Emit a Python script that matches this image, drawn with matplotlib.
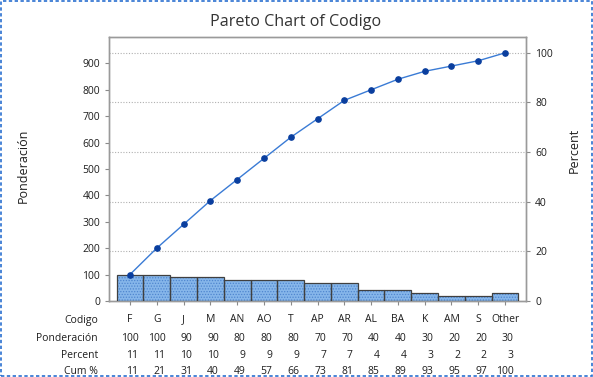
import numpy as np
import matplotlib.pyplot as plt
from matplotlib.patches import Rectangle
from matplotlib.transforms import blended_transform_factory

# ----------------------------
# Data
# ----------------------------

codigos = ["F", "G", "J", "M", "AN", "AO", "T", "AP", "AR",
           "AL", "BA", "K", "AM", "S", "Other"]
ponderacion = [100, 100, 90, 90, 80, 80, 80, 70, 70,
               40, 40, 30, 20, 20, 30]
percent = [11, 11, 10, 10, 9, 9, 9, 7, 7, 4, 4, 3, 2, 2, 3]
cum_pct = [11, 21, 31, 40, 49, 57, 66, 73, 81, 85, 89, 93, 95, 97, 100]

plt.rcParams["font.family"] = ["Open Sans", "DejaVu Sans"]
plt.rcParams["hatch.linewidth"] = 0.6

W, H = 593, 377
TXT = "#1e1e1e"
fig = plt.figure(figsize=(W / 100, H / 100), dpi=100)
ax = fig.add_axes([109 / W, 1 - 301 / H, (526 - 109) / W, (301 - 37) / H])

x = np.arange(len(codigos))
total = sum(ponderacion)
cum = np.cumsum(ponderacion)

# bars: hatched fill, then outline
ax.bar(x, ponderacion, width=1.0, color="#86b6ea", edgecolor="#4f86cf",
       linewidth=0, hatch="......", zorder=2)
ax.bar(x, ponderacion, width=1.0, fill=False, edgecolor="#404040",
       linewidth=0.9, zorder=3)

# cumulative line
ax.plot(x, cum, color="#3a7bd5", linewidth=1.0, marker="o",
        markersize=3.8, markerfacecolor="#0a3e9e",
        markeredgecolor="#0a3e9e", zorder=4)

ax.set_xlim(-0.78, len(codigos) - 1 + 0.78)
ax.set_ylim(0, 1000)
ax.set_yticks(range(0, 901, 100))
ax.set_xticks(x)
ax.set_xticklabels([])
ax.tick_params(axis="both", direction="out", length=3, width=0.8,
               colors="#8a8a8a", labelcolor=TXT, labelsize=7.5)

ax2 = ax.twinx()
ax2.set_ylim(0, 1000 / total * 100)
ax2.set_yticks(range(0, 101, 20))
ax2.tick_params(axis="y", direction="out", length=3, width=0.8,
                colors="#8a8a8a", labelcolor=TXT, labelsize=7.5)

for a in (ax, ax2):
    for s in a.spines.values():
        s.set_color("#9a9a9a")
        s.set_linewidth(1.0)

for v in range(20, 101, 20):
    ax2.axhline(v, color="#b0b0b0", linestyle=(0, (1, 1.5)),
                linewidth=0.8, zorder=0)
ax2.set_zorder(ax.get_zorder() - 1)
ax.patch.set_visible(False)

ax.set_ylabel("Ponderación", fontsize=9, color=TXT)
ax.yaxis.set_label_coords(-0.189, 0.511)
ax2.set_ylabel("Percent", fontsize=9, color=TXT)
ax2.yaxis.set_label_coords(1.1, 0.572)

fig.text(296 / W, 1 - 22 / H, "Pareto Chart of Codigo", ha="center",
         va="center", fontsize=11.6, fontweight="medium", color="#333333")

# ----------------------------
# Table below the chart
# ----------------------------

trans = blended_transform_factory(ax.transData, fig.transFigure)
rows = [("Codigo", codigos, 320),
        ("Ponderación", ponderacion, 338.5),
        ("Percent", percent, 355.5),
        ("Cum %", cum_pct, 372)]
for label, vals, ypx in rows:
    yf = 1 - ypx / H
    fig.text(98 / W, yf, label, ha="right", va="center", fontsize=7.5,
             color=TXT)
    for xi, v in zip(x, vals):
        if label == "Codigo":
            ax.text(xi, yf, v, transform=trans, ha="center", va="center",
                    fontsize=7.5, color=TXT, clip_on=False)
        else:
            ax.text(xi + 0.32, yf, str(v), transform=trans, ha="right",
                    va="center", fontsize=7.5, color=TXT, clip_on=False)

# dashed frame around the figure
fig.patches.append(Rectangle((0.002, 0.003), 0.996, 0.994,
                             transform=fig.transFigure, fill=False,
                             edgecolor="#2a6fd0", linewidth=1.2,
                             linestyle=(0, (2, 1.5))))

fig.savefig("out.png", dpi=100)
